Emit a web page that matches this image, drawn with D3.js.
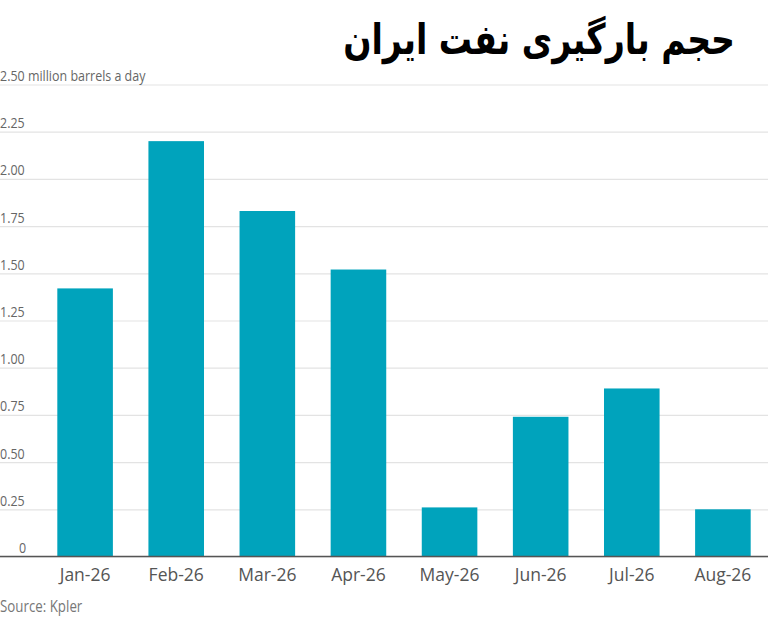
<!DOCTYPE html>
<html>
<head>
<meta charset="utf-8">
<script src="https://cdn.jsdelivr.net/npm/d3@7"></script>
<style>
  body { margin: 0; background: #fff; }
  svg { display: block; }
</style>
</head>
<body>
<script>
// Data
const months = ['Jan-26', 'Feb-26', 'Mar-26', 'Apr-26', 'May-26', 'Jun-26', 'Jul-26', 'Aug-26'];
const loadings = [1.42, 2.20, 1.83, 1.52, 0.26, 0.74, 0.89, 0.25];
const yTicks = [0, 0.25, 0.5, 0.75, 1.0, 1.25, 1.5, 1.75, 2.0, 2.25, 2.5];

const title = 'حجم بارگیری نفت ایران';
const unitLabel = ' million barrels a day';
const source = 'Source: Kpler';

const width = 768;
const height = 619;
const plotTop = 84.5;
const plotBottom = 556.5;

const svg = d3.select('body')
    .append('svg')
    .attr('width', width)
    .attr('height', height);

// Scales
const x = d3.scaleBand()
    .domain(months)
    .range([40, 768])
    .paddingInner(0.39)
    .paddingOuter(0.19);

const y = d3.scaleLinear()
    .domain([0, 2.5])
    .range([plotBottom, plotTop]);

const labelFont = '"Open Sans", sans-serif';
const squeeze = 0.86;

// Gridlines and y labels
const yAxis = svg.append('g')
    .call(d3.axisRight(y)
        .tickValues(yTicks)
        .tickSize(width)
        .tickFormat(d => d === 0 ? '0' : d3.format('.2f')(d) + (d === 2.5 ? unitLabel : '')));

yAxis.select('.domain').remove();
yAxis.selectAll('.tick line')
    .attr('stroke', '#e3e3e3')
    .attr('stroke-width', 1.2);
yAxis.selectAll('.tick text')
    .attr('x', d => d === 0 ? 19 / squeeze : 0)
    .attr('y', 0)
    .attr('dy', -4)
    .attr('transform', `scale(${squeeze},1)`)
    .attr('text-anchor', 'start')
    .attr('fill', '#666')
    .style('font-family', labelFont)
    .style('font-size', '14.5px');

// Bars
svg.selectAll('rect.bar')
    .data(months)
    .enter().append('rect')
    .attr('class', 'bar')
    .attr('x', d => x(d))
    .attr('y', (d, i) => y(loadings[i]))
    .attr('width', x.bandwidth())
    .attr('height', (d, i) => y(0) - y(loadings[i]))
    .attr('fill', '#00a3bc');

// X axis
const xAxis = svg.append('g')
    .attr('transform', `translate(0,${plotBottom})`)
    .call(d3.axisBottom(x).tickSize(0).tickPadding(12));

xAxis.select('.domain').remove();
xAxis.selectAll('text')
    .attr('fill', '#555')
    .style('font-family', labelFont)
    .style('font-size', '17.5px');

svg.append('line')
    .attr('x1', 0)
    .attr('x2', width)
    .attr('y1', plotBottom)
    .attr('y2', plotBottom)
    .attr('stroke', '#555')
    .attr('stroke-width', 1.5);

// Title
svg.append('text')
    .attr('transform', 'translate(735,54) scale(0.79,1)')
    .attr('text-anchor', 'end')
    .attr('fill', '#000')
    .style('font-family', '"DejaVu Sans", sans-serif')
    .style('font-weight', 'bold')
    .style('font-size', '42px')
    .text(title);

// Source
svg.append('text')
    .attr('transform', `translate(0,612) scale(${squeeze},1)`)
    .attr('fill', '#777')
    .style('font-family', labelFont)
    .style('font-size', '15.5px')
    .text(source);
</script>
</body>
</html>
